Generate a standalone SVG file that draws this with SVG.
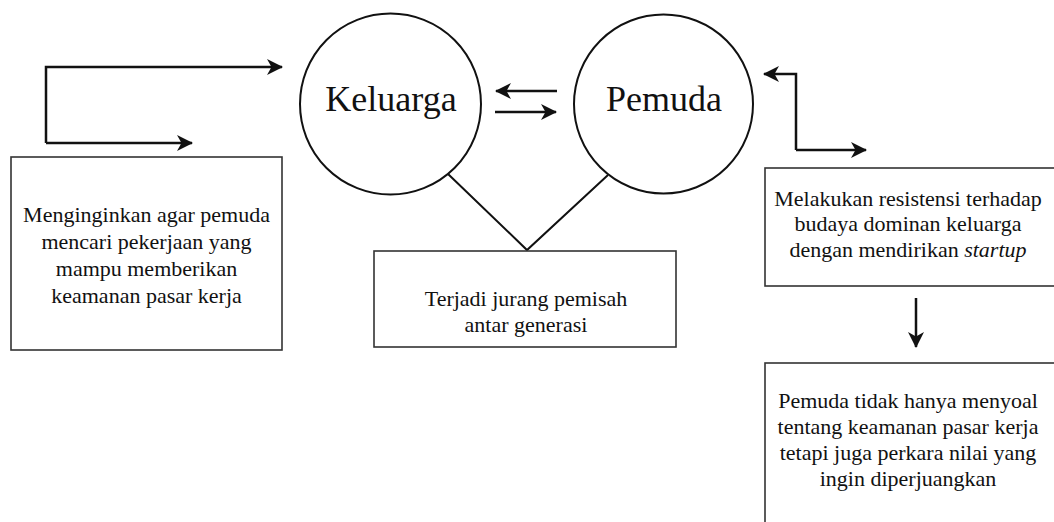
<svg xmlns="http://www.w3.org/2000/svg" width="1054" height="522" viewBox="0 0 1054 522">
<style>
.box{fill:#fff;stroke:#333;stroke-width:1.6}
.circ{fill:#fff;stroke:#111;stroke-width:2}
.t{font-family:"Liberation Serif","Times New Roman",serif;font-size:22px;fill:#111;text-anchor:middle}
.big{font-size:36px}
.ln{fill:none;stroke:#111;stroke-width:2.5}
.thin{fill:none;stroke:#111;stroke-width:2}
</style>
<defs>
<marker id="ah" markerUnits="userSpaceOnUse" markerWidth="18" markerHeight="18" refX="15" refY="8" orient="auto">
<path d="M0,0 L16,8 L0,16 L4.5,8 Z" fill="#111"/>
</marker>
</defs>
<rect width="1054" height="522" fill="#fff"/>
<g id="connectors">
<polyline class="ln" points="46,143 46,67 282,67" marker-end="url(#ah)"/>
<polyline class="ln" points="46,143 192,143" marker-end="url(#ah)"/>
<line class="ln" x1="557" y1="91" x2="496" y2="91" marker-end="url(#ah)"/>
<line class="ln" x1="495" y1="112" x2="556" y2="112" marker-end="url(#ah)"/>
<polyline class="thin" points="447,173 527,250 608,175"/>
<polyline class="ln" points="796,150 796,74 764,74" marker-end="url(#ah)"/>
<polyline class="ln" points="796,150 866,150" marker-end="url(#ah)"/>
<line class="ln" x1="916" y1="298" x2="916" y2="347" marker-end="url(#ah)"/>
</g>
<g id="keluarga">
<circle class="circ" cx="390.5" cy="104" r="90.5"/>
<text class="t big" x="391" y="111">Keluarga</text>
</g>
<g id="pemuda">
<circle class="circ" cx="663.5" cy="104" r="89.5"/>
<text class="t big" x="664" y="111">Pemuda</text>
</g>
<g id="box-left">
<rect class="box" x="11" y="157" width="271" height="193"/>
<text class="t" x="146.5" y="222">Menginginkan agar pemuda</text>
<text class="t" x="146.5" y="249">mencari pekerjaan yang</text>
<text class="t" x="146.5" y="276">mampu memberikan</text>
<text class="t" x="146.5" y="303">keamanan pasar kerja</text>
</g>
<g id="box-middle">
<rect class="box" x="374" y="251" width="302" height="96"/>
<text class="t" x="526" y="306">Terjadi jurang pemisah</text>
<text class="t" x="526" y="332">antar generasi</text>
</g>
<g id="box-right1">
<rect class="box" x="765" y="168" width="300" height="118"/>
<text class="t" x="908" y="206">Melakukan resistensi terhadap</text>
<text class="t" x="908" y="231">budaya dominan keluarga</text>
<text class="t" x="908" y="257">dengan mendirikan <tspan font-style="italic">startup</tspan></text>
</g>
<g id="box-right2">
<rect class="box" x="765" y="363" width="300" height="170"/>
<text class="t" x="908" y="408">Pemuda tidak hanya menyoal</text>
<text class="t" x="908" y="434">tentang keamanan pasar kerja</text>
<text class="t" x="908" y="460">tetapi juga perkara nilai yang</text>
<text class="t" x="908" y="486">ingin diperjuangkan</text>
</g>
</svg>
